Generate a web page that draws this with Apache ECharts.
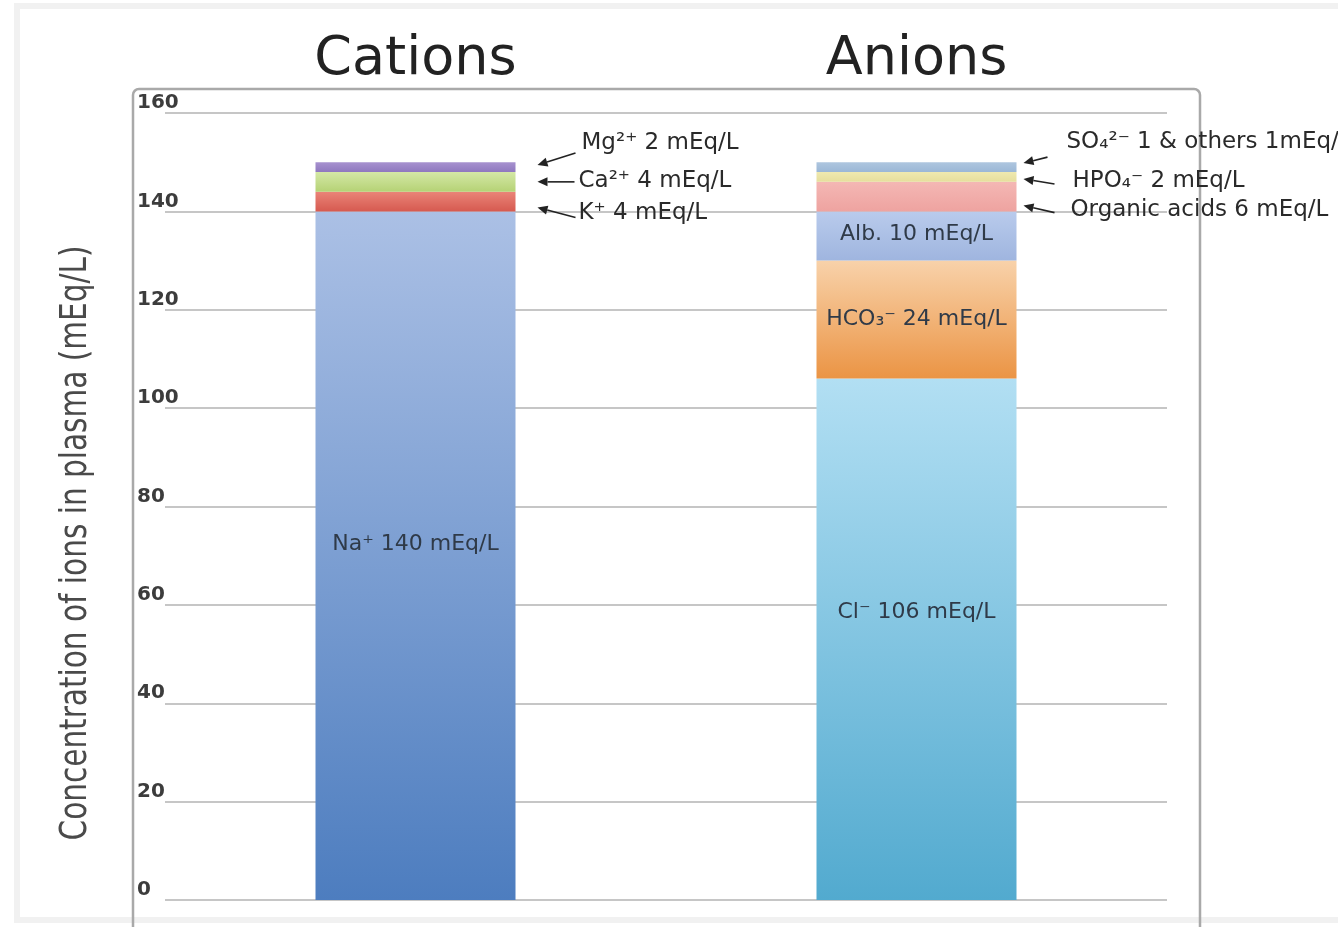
<!DOCTYPE html>
<html>
<head>
<meta charset="utf-8">
<script src="https://cdn.jsdelivr.net/npm/echarts@6/dist/echarts.min.js"></script>
<style>
  html, body { margin: 0; padding: 0; background: #fff; }
  #chart { width: 1338px; height: 927px; }
</style>
</head>
<body>
<div id="chart"></div>
<script>
// Plasma ion composition, stacked from the bottom up (mEq/L)
const groups = ['Cations', 'Anions'];

const cationLabels = ['Na⁺ 140 mEq/L', 'K⁺ 4 mEq/L', 'Ca²⁺ 4 mEq/L', 'Mg²⁺ 2 mEq/L'];
const cationValues = [140, 4, 4, 2];

const anionLabels = ['Cl⁻ 106 mEq/L', 'HCO₃⁻ 24 mEq/L', 'Alb. 10 mEq/L',
  'Organic acids 6 mEq/L', 'HPO₄⁻ 2 mEq/L', 'SO₄²⁻ 1 & others 1mEq/L'];
const anionValues = [106, 24, 10, 6, 2, 2];

const yTicks = [0, 20, 40, 60, 80, 100, 120, 140, 160];
const yAxisTitle = 'Concentration of ions in plasma (mEq/L)';

// Segment fills: [top colour, bottom colour]
const cationColors = [['#abc0e5', '#4d7dbf'], ['#ea8478', '#d65a50'],
  ['#d4e8a6', '#b5d275'], ['#a792cf', '#8f78bf']];
const anionColors = [['#b2dff3', '#52aacf'], ['#f8d2aa', '#eb9444'],
  ['#b9cbec', '#9fb5df'], ['#f4b7b4', '#eea3a0'], ['#efe9b0', '#e6de9c'],
  ['#aec6df', '#9bb7d6']];

// Which segments carry their label inside the bar, and its vertical nudge (px)
const cationInside = [true, false, false, false];
const cationInsideDy = [-11, 0, 0, 0];
const anionInside = [true, true, true, false, false, false];
const anionInsideDy = [-27, 0, -2, 0, 0, 0];

// Callout layout for outside labels: [headGap, headDy, tailDx, tailDy, textX, textDy]
const cationCallouts = [null, [22, 6, 38, 10, 63, 5], [22, 0, 37, 0, 63, -1], [22, -2, 38, -12, 66, -22]];
const anionCallouts = [null, null, null, [7, 9, 31, 7, 54, 4], [7, 2, 31, 5, 56, 2], [7, -4, 24, -6, 50, -21]];

const BAR_W = 200;
const FONT = '"DejaVu Sans", "Noto Sans", sans-serif';

const chart = echarts.init(document.getElementById('chart'), null, { renderer: 'canvas' });

function gradient(c) {
  return new echarts.graphic.LinearGradient(0, 0, 0, 1, [
    { offset: 0, color: c[0] }, { offset: 1, color: c[1] }
  ]);
}

function buildSeries(gi, labels, values, colors, inside, insideDy) {
  return values.map((v, k) => ({
    name: labels[k],
    type: 'bar',
    stack: 'ions',
    barWidth: BAR_W,
    data: groups.map((g, i) => (i === gi ? v : '-')),
    itemStyle: { color: gradient(colors[k]) },
    label: {
      show: inside[k],
      position: 'inside',
      offset: [0, insideDy[k]],
      formatter: () => labels[k],
      color: '#2f3a48',
      fontSize: 22,
      fontFamily: FONT
    },
    emphasis: { disabled: true },
    animation: false
  }));
}

const series = [].concat(
  buildSeries(0, cationLabels, cationValues, cationColors, cationInside, cationInsideDy),
  buildSeries(1, anionLabels, anionValues, anionColors, anionInside, anionInsideDy)
);

chart.setOption({
  animation: false,
  grid: { left: 165, right: 171, top: 113, bottom: 27 },
  xAxis: {
    type: 'category',
    data: groups,
    position: 'top',
    axisLine: { show: false },
    axisTick: { show: false },
    axisLabel: { fontSize: 54, color: '#222', fontFamily: FONT, margin: 26 }
  },
  yAxis: {
    type: 'value',
    min: yTicks[0],
    max: yTicks[yTicks.length - 1],
    interval: yTicks[1] - yTicks[0],
    axisLine: { show: false },
    axisTick: { show: false },
    splitLine: { lineStyle: { color: '#c6c6c6', width: 2 } },
    axisLabel: {
      align: 'left',
      verticalAlign: 'bottom',
      margin: 28,
      fontSize: 20,
      fontWeight: 'bold',
      color: '#3c3c3c',
      fontFamily: FONT
    }
  },
  series: series
});

// Callout arrows and texts, positioned through the chart's own scales
function arrow(x1, y1, x2, y2) {
  const ang = Math.atan2(y2 - y1, x2 - x1);
  const L = 10, W = 4.5;
  const bx = x2 - L * Math.cos(ang), by = y2 - L * Math.sin(ang);
  const px = -Math.sin(ang) * W, py = Math.cos(ang) * W;
  return [
    { type: 'line', shape: { x1: x1, y1: y1, x2: bx, y2: by }, style: { stroke: '#222', lineWidth: 1.6 }, silent: true },
    { type: 'polygon', shape: { points: [[x2, y2], [bx + px, by + py], [bx - px, by - py]] }, style: { fill: '#222' }, silent: true }
  ];
}

const elements = [];

// faint outer border and the rounded chart frame
elements.push({ type: 'rect', shape: { x: 17, y: 6, width: 1340, height: 914 },
  style: { fill: 'none', stroke: '#f1f1f1', lineWidth: 6 }, silent: true, z: -10 });
elements.push({ type: 'rect', shape: { x: 133, y: 89, width: 1067, height: 860, r: 6 },
  style: { fill: 'none', stroke: '#a9a9a9', lineWidth: 2.5 }, silent: true });

function addCallouts(gi, labels, values, layouts) {
  const cx = chart.convertToPixel({ xAxisIndex: 0 }, groups[gi]);
  const edge = cx + BAR_W / 2;
  let cum = 0;
  values.forEach((v, k) => {
    const mid = cum + v / 2;
    cum += v;
    const lay = layouts[k];
    if (!lay) return;
    const my = chart.convertToPixel({ yAxisIndex: 0 }, mid);
    const hx = edge + lay[0], hy = my + lay[1];
    const tx = hx + lay[2], ty = hy + lay[3];
    elements.push(...arrow(tx, ty, hx, hy));
    elements.push({
      type: 'text', x: edge + lay[4], y: hy + lay[5], silent: true,
      style: { text: labels[k], font: '23px ' + FONT, fill: '#2a2a2a',
        align: 'left', textAlign: 'left', verticalAlign: 'middle', textVerticalAlign: 'middle' }
    });
  });
}
addCallouts(0, cationLabels, cationValues, cationCallouts);
addCallouts(1, anionLabels, anionValues, anionCallouts);

// rotated, condensed axis title
const ctx = document.createElement('canvas').getContext('2d');
ctx.font = '38px ' + FONT;
const titleScale = 595 / ctx.measureText(yAxisTitle).width;
elements.push({
  type: 'text', x: 76, y: 543, rotation: Math.PI / 2, scaleX: titleScale, silent: true,
  style: { text: yAxisTitle, font: '38px ' + FONT, fill: '#4a4a4a',
    align: 'center', textAlign: 'center', verticalAlign: 'middle', textVerticalAlign: 'middle' }
});

chart.setOption({ graphic: { elements: elements } });
</script>
</body>
</html>
